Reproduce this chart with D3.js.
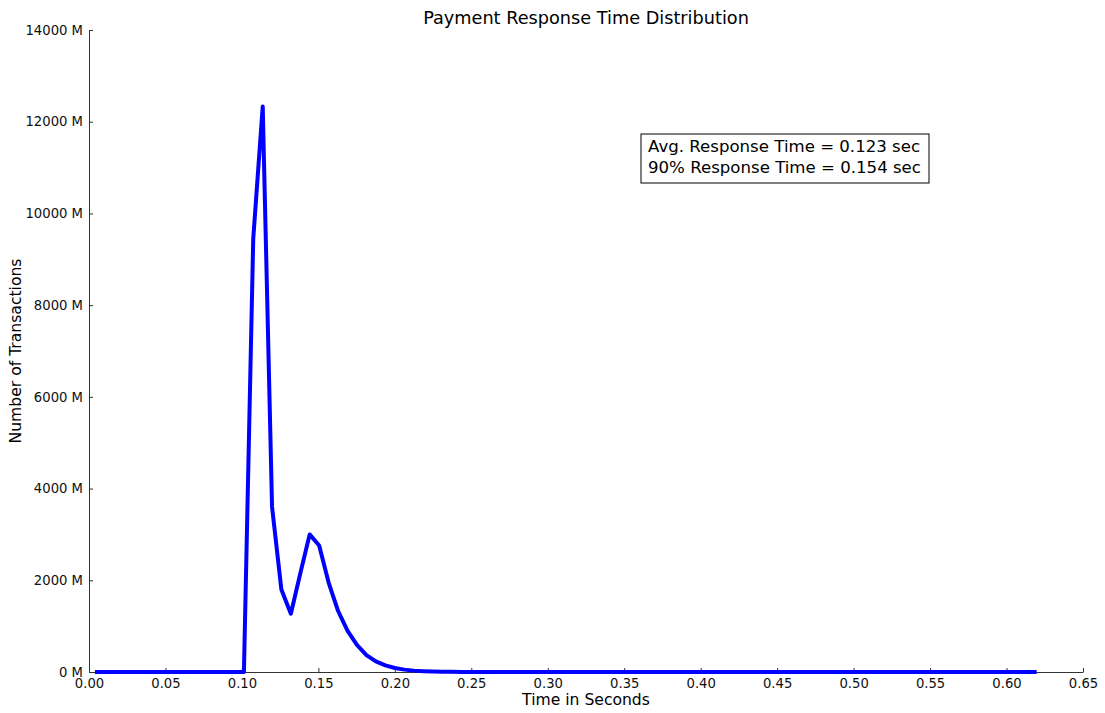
<!DOCTYPE html>
<html>
<head>
<meta charset="utf-8">
<script src="https://cdn.jsdelivr.net/npm/d3@7"></script>
<style>
  body { margin: 0; background: #fff; }
  svg { font-family: "DejaVu Sans", sans-serif; }
</style>
</head>
<body>
<div id="chart"></div>
<script>
// response time (s) and number of transactions (millions)
const times = [0.0052, 0.1013, 0.1074, 0.1136, 0.1197, 0.1258, 0.1320, 0.1381, 0.1443, 0.1505,
  0.1567, 0.1629, 0.1690, 0.1752, 0.1814, 0.1876, 0.1938, 0.2000, 0.2062, 0.2124,
  0.2186, 0.2248, 0.2310, 0.2372, 0.2434, 0.6184];
const counts = [0, 0, 9450, 12330, 3600, 1800, 1270, 2140, 3000, 2760,
  1950, 1330, 900, 590, 370, 230, 145, 88, 52, 30,
  18, 10, 6, 3, 1, 0];

const xTicks = [0, 0.05, 0.1, 0.15, 0.2, 0.25, 0.3, 0.35, 0.4, 0.45, 0.5, 0.55, 0.6, 0.65];
const yTicks = [0, 2000, 4000, 6000, 8000, 10000, 12000, 14000];
const notes = ["Avg. Response Time = 0.123 sec", "90% Response Time = 0.154 sec"];

const width = 1105, height = 713;
const margin = {top: 30, right: 22, bottom: 41, left: 89};

const svg = d3.select("#chart").append("svg")
  .attr("width", width).attr("height", height);

const x = d3.scaleLinear().domain([0, 0.65]).range([margin.left, width - margin.right]);
const y = d3.scaleLinear().domain([0, 14000]).range([height - margin.bottom, margin.top]);

// title
svg.append("text")
  .attr("x", (x(0) + x(0.65)) / 2).attr("y", 24)
  .attr("text-anchor", "middle")
  .style("font-size", "17.7px")
  .text("Payment Response Time Distribution");

// axes (ticks pointing inward like matplotlib)
const xAxis = svg.append("g")
  .attr("transform", "translate(0," + y(0) + ")")
  .call(d3.axisBottom(x).tickValues(xTicks).tickFormat(d3.format(".2f"))
    .tickSizeInner(-4).tickSizeOuter(0).tickPadding(5));

const yAxis = svg.append("g")
  .attr("transform", "translate(" + x(0) + ",0)")
  .call(d3.axisLeft(y).tickValues(yTicks).tickFormat(d => d + " M")
    .tickSizeInner(-4).tickSizeOuter(0).tickPadding(6));

[xAxis, yAxis].forEach(g => {
  g.select(".domain").attr("stroke", "#333");
  g.selectAll(".tick line").attr("stroke", "#333");
  g.selectAll(".tick text").style("font-size", "13.2px").attr("fill", "#111")
    .style("font-family", "DejaVu Sans, sans-serif");
});
xAxis.selectAll(".tick text").attr("dy", "0.8em");

// axis labels
svg.append("text")
  .attr("x", (x(0) + x(0.65)) / 2).attr("y", 705)
  .attr("text-anchor", "middle")
  .style("font-size", "15.6px")
  .text("Time in Seconds");

svg.append("text")
  .attr("transform", "translate(21," + ((y(0) + y(14000)) / 2) + ") rotate(-90)")
  .attr("text-anchor", "middle")
  .style("font-size", "15.6px")
  .text("Number of Transactions");

// the distribution line
const data = times.map((t, i) => ({t: t, v: counts[i]}));
svg.append("path")
  .datum(data)
  .attr("fill", "none")
  .attr("stroke", "#0000ff")
  .attr("stroke-width", 4)
  .attr("stroke-linejoin", "round")
  .attr("stroke-linecap", "square")
  .attr("d", d3.line().x(d => x(d.t)).y(d => y(d.v)));

// annotation box
const box = svg.append("g").attr("transform", "translate(641,134)");
box.append("rect")
  .attr("width", 288).attr("height", 49)
  .attr("fill", "#fff").attr("stroke", "#000").attr("stroke-width", 1);
box.selectAll("text")
  .data(notes)
  .join("text")
    .attr("x", 7)
    .attr("y", (d, i) => 18 + i * 21)
    .style("font-size", "16.6px")
    .text(d => d);
</script>
</body>
</html>
